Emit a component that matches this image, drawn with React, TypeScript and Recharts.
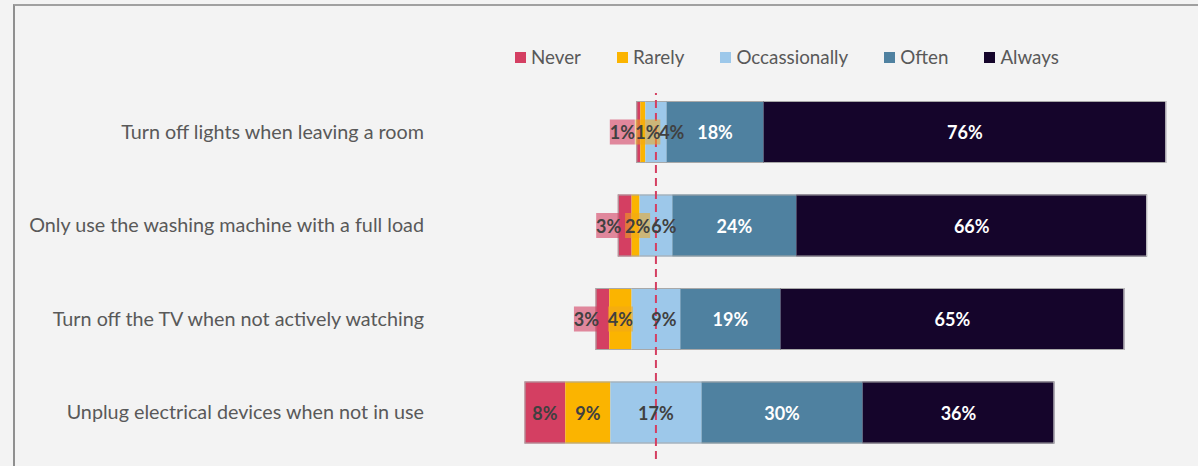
import React from "react";
import { BarChart, Bar, XAxis, YAxis, ReferenceLine, LabelList, Legend } from "recharts";

const categories = [
  "Turn off lights when leaving a room",
  "Only use the washing machine with a full load",
  "Turn off the TV when not actively watching",
  "Unplug electrical devices when not in use",
];
const never = [0.75, 2.6, 2.6, 7.7];
const rarely = [0.95, 1.5, 4.2, 8.5];
const occasionally = [4.0, 6.2, 9.2, 17.2];
const often = [18.3, 23.4, 18.9, 30.4];
const always = [76.0, 66.2, 64.9, 36.2];

const neverLabels = ["1%", "3%", "3%", "8%"];
const rarelyLabels = ["1%", "2%", "4%", "9%"];
const occasionallyLabels = ["4%", "6%", "9%", "17%"];
const oftenLabels = ["18%", "24%", "19%", "30%"];
const alwaysLabels = ["76%", "66%", "65%", "36%"];

const seriesNames = ["Never", "Rarely", "Occassionally", "Often", "Always"];
const COLORS = ["#d43f62", "#fbb400", "#9dc8ea", "#4f81a0", "#15052b"];

// centre of the diverging scale (the dashed line), in percent units on the x axis
const CENTER = 41.7;
const X_MAX = 142.5;

const data = categories.map((c, i) => ({
  name: c,
  offset: CENTER - (never[i] + rarely[i] + occasionally[i] / 2),
  never: never[i],
  rarely: rarely[i],
  occasionally: occasionally[i],
  often: often[i],
  always: always[i],
  neverLabel: neverLabels[i],
  rarelyLabel: rarelyLabels[i],
  occasionallyLabel: occasionallyLabels[i],
  oftenLabel: oftenLabels[i],
  alwaysLabel: alwaysLabels[i],
}));

const FONT = "Lato, 'Open Sans', sans-serif";
const OUTLINE = "#a8a8a8";

const makeShape = (edge: "left" | "right" | "none") => (props: any) => {
  const { x, y, width, height, fill } = props;
  if (width == null || height == null) return null;
  return (
    <g>
      <rect x={x} y={y} width={width} height={height} fill={fill} />
      <line x1={x} x2={x + width} y1={y + 0.5} y2={y + 0.5} stroke={OUTLINE} strokeWidth={1} />
      <line x1={x} x2={x + width} y1={y + height - 0.5} y2={y + height - 0.5} stroke={OUTLINE} strokeWidth={1} />
      {edge === "left" && <line x1={x + 0.5} x2={x + 0.5} y1={y} y2={y + height} stroke={OUTLINE} strokeWidth={1} />}
      {edge === "right" && <line x1={x + width - 0.5} x2={x + width - 0.5} y1={y} y2={y + height} stroke="#c8c8c8" strokeWidth={1} />}
    </g>
  );
};

const makeLabel = (kind: string, color: string) => (props: any) => {
  const { x, y, width, height, value } = props;
  const w = Number(width);
  let cx = Number(x) + w / 2;
  const cy = Number(y) + Number(height) / 2;
  let box: React.ReactNode = null;
  const numeric = parseFloat(String(value));
  if (kind === "never" && numeric < 5) {
    cx = cx - 16;
    box = <rect x={cx - 12.5} y={cy - 12.5} width={25} height={25} fill="#d43f62" fillOpacity={0.6} />;
  }
  if (kind === "rarely" && numeric < 5) {
    cx = cx + Math.max(0, 10 - w);
    box = <rect x={cx - 12.5} y={cy - 12.5} width={25} height={25} fill="#f0a81c" fillOpacity={0.55} />;
  }
  if (kind === "occ" && numeric < 10) {
    cx = cx + Math.max(8, 37 - w);
  }
  return (
    <g>
      {box}
      <text
        x={cx}
        y={cy}
        textAnchor="middle"
        dominantBaseline="central"
        fill={color}
        fontFamily={FONT}
        fontWeight={700}
        fontSize={18}
      >
        {value}
      </text>
    </g>
  );
};

const LegendContent = () => (
  <div style={{ display: "flex", alignItems: "center", fontFamily: FONT, fontSize: 18.8, color: "#595959" }}>
    {seriesNames.map((n, i) => (
      <div key={n} style={{ display: "flex", alignItems: "center", marginRight: 36 }}>
        <div style={{ width: 11, height: 11, background: COLORS[i], marginRight: 5 }} />
        <span style={{ lineHeight: "20px" }}>{n}</span>
      </div>
    ))}
  </div>
);

const DashedLine = (props: any) => {
  const { x1, y1, x2, y2 } = props;
  return (
    <line x1={x1} y1={y1} x2={x2} y2={Number(y2) + 8} stroke="#d43f62" strokeWidth={2} strokeDasharray="8 5" />
  );
};

export default function App() {
  return (
    <div style={{ position: "absolute", left: 0, top: 0, width: 1198, height: 466, background: "#f3f3f3", overflow: "hidden" }}>
      <div
        style={{
          position: "absolute",
          left: 13,
          top: 4,
          width: 1200,
          height: 470,
          borderLeft: "2px solid #8f8f8f",
          borderTop: "2px solid #a0a0a0",
        }}
      />
      <div style={{ position: "absolute", left: 0, top: 0 }}>
        <BarChart
          width={1198}
          height={466}
          data={data}
          layout="vertical"
          margin={{ top: 85, right: 8, bottom: 7, left: 0 }}
          barSize={62}
        >
          <XAxis type="number" domain={[0, X_MAX]} hide allowDataOverflow />
          <YAxis
            type="category"
            dataKey="name"
            width={435}
            axisLine={false}
            tickLine={false}
            tickSize={0}
            tickMargin={11}
            tick={{ fill: "#595959", fontSize: 19.75, fontFamily: FONT }}
            interval={0}
          />
          <Legend
            layout="horizontal"
            verticalAlign="middle"
            align="center"
            content={<LegendContent />}
            wrapperStyle={{ position: "absolute", top: 47, left: 515, width: 700 }}
          />
          <Bar dataKey="offset" stackId="s" fill="transparent" isAnimationActive={false} legendType="none" />
          <Bar dataKey="never" name="Never" stackId="s" fill={COLORS[0]} isAnimationActive={false} shape={makeShape("left")}>
            <LabelList dataKey="neverLabel" content={makeLabel("never", "#404040")} />
          </Bar>
          <Bar dataKey="rarely" name="Rarely" stackId="s" fill={COLORS[1]} isAnimationActive={false} shape={makeShape("none")}>
            <LabelList dataKey="rarelyLabel" content={makeLabel("rarely", "#404040")} />
          </Bar>
          <Bar dataKey="occasionally" name="Occassionally" stackId="s" fill={COLORS[2]} isAnimationActive={false} shape={makeShape("none")}>
            <LabelList dataKey="occasionallyLabel" content={makeLabel("occ", "#404040")} />
          </Bar>
          <Bar dataKey="often" name="Often" stackId="s" fill={COLORS[3]} isAnimationActive={false} shape={makeShape("none")}>
            <LabelList dataKey="oftenLabel" content={makeLabel("often", "#ffffff")} />
          </Bar>
          <Bar dataKey="always" name="Always" stackId="s" fill={COLORS[4]} isAnimationActive={false} shape={makeShape("right")}>
            <LabelList dataKey="alwaysLabel" content={makeLabel("always", "#ffffff")} />
          </Bar>
          <ReferenceLine x={CENTER} shape={DashedLine} ifOverflow="visible" />
        </BarChart>
      </div>
    </div>
  );
}
